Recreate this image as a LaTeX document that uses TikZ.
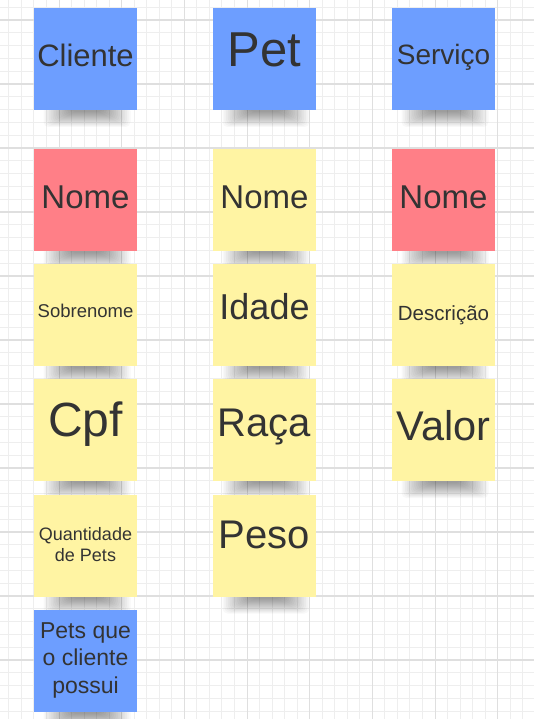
\documentclass[tikz,border=0pt]{standalone}
\usepackage{fontspec}
\setmainfont{Liberation Sans}
\definecolor{noteblue}{HTML}{6D9EFF}
\definecolor{notered}{HTML}{FF7F87}
\definecolor{noteyellow}{HTML}{FFF4A3}
\definecolor{ink}{HTML}{333333}
\definecolor{gridminor}{HTML}{EEEEEE}
\definecolor{gridmajor}{HTML}{DFDFDF}
\tikzset{
  note/.style={rectangle, minimum width=103pt, minimum height=102pt, inner sep=0pt, text=ink, align=center},
  bluenote/.style={note, fill=noteblue},
  rednote/.style={note, fill=notered},
  yellownote/.style={note, fill=noteyellow},
  shadowlayer/.style={fill=black, fill opacity=0.026, rounded corners=5pt},
  minorline/.style={draw=gridminor, line width=1pt},
  majorline/.style={draw=gridmajor, line width=1.1pt}
}
\newcommand\sticky[5]{%
  \foreach \k in {0,...,15}
    \fill[shadowlayer] ({#2-42+1.8*\k},{#3+47}) rectangle ({#2+45-1.8*\k},{#3+68-1*\k});
  \node[#4] (#1) at (#2,#3) {#5};
}
\begin{document}
\begin{tikzpicture}[x=1pt,y=-1pt]
\useasboundingbox (0,0) rectangle (534,719);
\fill[white] (0,0) rectangle (534,719);
\begin{scope}
\clip (0,0) rectangle (534,719);
\foreach \i in {0,...,44} \draw[minorline] ({-3.6+12.533*\i},0) -- ({-3.6+12.533*\i},719);
\foreach \j in {0,...,57} \draw[minorline] (0,{-5.6+12.8*\j}) -- (534,{-5.6+12.8*\j});
\foreach \i in {0,...,9} \draw[majorline] ({-3.6+62.667*\i},0) -- ({-3.6+62.667*\i},719);
\foreach \j in {0,...,11} \draw[majorline] (0,{20+64*\j}) -- (534,{20+64*\j});
\end{scope}

% column 1
\sticky{cliente}{85.5}{59}{bluenote, text height=16pt, text depth=0pt, font=\fontsize{31pt}{37pt}\selectfont}{Cliente}
\sticky{cnome}{85.5}{200}{rednote, text height=16pt, text depth=0pt, font=\fontsize{33pt}{40pt}\selectfont}{Nome}
\sticky{sobrenome}{85.5}{315}{yellownote, text height=5.4pt, text depth=0pt, font=\fontsize{18.5pt}{22pt}\selectfont}{Sobrenome}
\sticky{cpf}{85.5}{430}{yellownote, text height=12pt, text depth=0pt, font=\fontsize{48pt}{56pt}\selectfont}{Cpf}
\sticky{qtd}{85.5}{545.5}{yellownote, text height=32.4pt, text depth=0pt, font=\fontsize{18pt}{21pt}\selectfont}{Quantidade\\de Pets}
\sticky{pets}{85.5}{660.7}{bluenote, text height=64.6pt, text depth=0pt, font=\fontsize{23pt}{27.5pt}\selectfont}{Pets que\\o cliente\\possui}

% column 2
\sticky{pet}{264.5}{59}{bluenote, text height=16pt, text depth=0pt, font=\fontsize{49pt}{58pt}\selectfont}{Pet}
\sticky{pnome}{264.5}{200}{yellownote, text height=16pt, text depth=0pt, font=\fontsize{33pt}{40pt}\selectfont}{Nome}
\sticky{idade}{264.5}{315}{yellownote, text height=8pt, text depth=0pt, font=\fontsize{36pt}{43pt}\selectfont}{Idade}
\sticky{raca}{264.5}{430}{yellownote, text height=12pt, text depth=0pt, font=\fontsize{40pt}{48pt}\selectfont}{Raça}
\sticky{peso}{264.5}{545.5}{yellownote, text height=6pt, text depth=0pt, font=\fontsize{40pt}{48pt}\selectfont}{Peso}

% column 3
\sticky{servico}{443.5}{59}{bluenote, text height=12pt, text depth=0pt, font=\fontsize{28pt}{34pt}\selectfont}{Serviço}
\sticky{snome}{443.5}{200}{rednote, text height=16pt, text depth=0pt, font=\fontsize{33pt}{40pt}\selectfont}{Nome}
\sticky{descricao}{443.5}{315}{yellownote, text height=11.4pt, text depth=0pt, font=\fontsize{20.5pt}{25pt}\selectfont}{Descrição}
\sticky{valor}{443.5}{430}{yellownote, text height=20pt, text depth=0pt, font=\fontsize{41.5pt}{49pt}\selectfont}{Valor}
\end{tikzpicture}
\end{document}
